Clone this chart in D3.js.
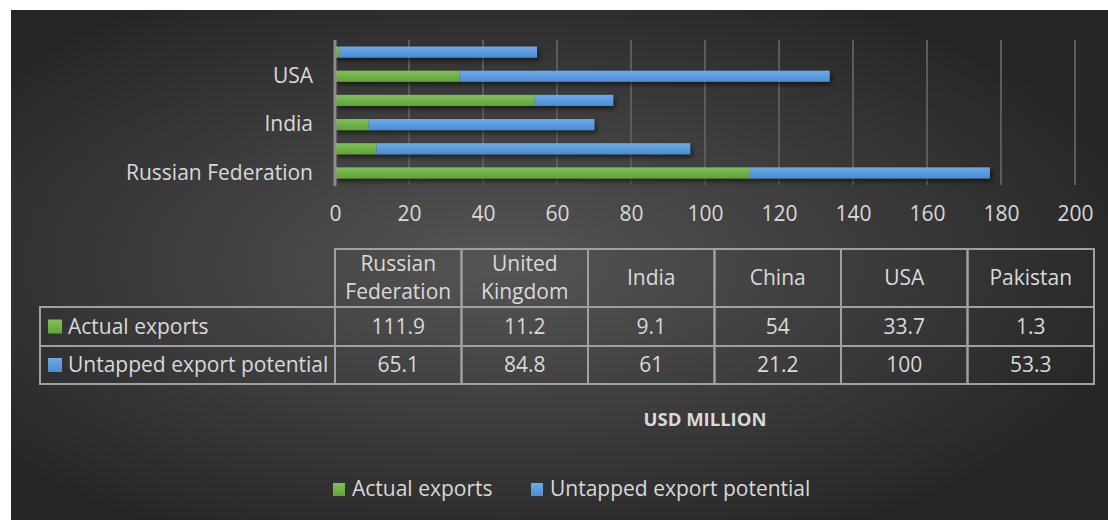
<!DOCTYPE html>
<html><head><meta charset="utf-8">
<script src="https://cdn.jsdelivr.net/npm/d3@7"></script>
<style>
html,body{margin:0;padding:0;background:#fff;}
svg{display:block;font-family:"Open Sans","Noto Sans",sans-serif;}
</style></head>
<body><svg id="c" width="1108" height="520"></svg>
<script>
const categories = ["Russian Federation","United Kingdom","India","China","USA","Pakistan"];
const tableHeaders = [["Russian","Federation"],["United","Kingdom"],["India"],["China"],["USA"],["Pakistan"]];
const actualExports = [111.9, 11.2, 9.1, 54, 33.7, 1.3];
const untappedPotential = [65.1, 84.8, 61, 21.2, 100, 53.3];
const seriesNames = ["Actual exports","Untapped export potential"];
const xTicks = [0,20,40,60,80,100,120,140,160,180,200];

const FS = "21px";
const svg = d3.select("#c");
const defs = svg.append("defs");
const bg = defs.append("radialGradient").attr("id","bg").attr("cx","45%").attr("cy","50%").attr("r","60%");
bg.append("stop").attr("offset","0%").attr("stop-color","#555555");
bg.append("stop").attr("offset","100%").attr("stop-color","#262626");
const gG = defs.append("linearGradient").attr("id","gG").attr("x1",0).attr("y1",0).attr("x2",0).attr("y2",1);
gG.append("stop").attr("offset","0%").attr("stop-color","#82bf5c");
gG.append("stop").attr("offset","100%").attr("stop-color","#5fa534");
const gB = defs.append("linearGradient").attr("id","gB").attr("x1",0).attr("y1",0).attr("x2",0).attr("y2",1);
gB.append("stop").attr("offset","0%").attr("stop-color","#6eaae6");
gB.append("stop").attr("offset","100%").attr("stop-color","#4a8cd4");
const sh = defs.append("filter").attr("id","sh").attr("x","-10%").attr("y","-50%").attr("width","120%").attr("height","250%");
sh.append("feDropShadow").attr("dx",2).attr("dy",3).attr("stdDeviation",2.5).attr("flood-color","#000").attr("flood-opacity",0.55);

svg.append("rect").attr("x",11).attr("y",10).attr("width",1097).attr("height",510).attr("fill","url(#bg)");

const x = d3.scaleLinear().domain([0,200]).range([335,1075]);
const y = d3.scaleBand().domain(categories).range([185,40]).paddingInner(0.54).paddingOuter(0.27);

// grid
svg.append("g").selectAll("line").data(xTicks.filter(d=>d>0)).join("line")
  .attr("x1",d=>x(d)).attr("x2",d=>x(d)).attr("y1",40).attr("y2",185)
  .attr("stroke","#5c5c5c").attr("stroke-width",2);

// bars
const stackData = categories.map((c,i)=>({cat:c, a:actualExports[i], u:untappedPotential[i]}));
const stack = d3.stack().keys(["a","u"])(stackData);
const fills = ["url(#gG)","url(#gB)"];
const barsG = svg.append("g").attr("filter","url(#sh)");
stack.forEach((s,si)=>{
  barsG.append("g").selectAll("rect").data(s).join("rect")
    .attr("x",d=>x(d[0])).attr("width",d=>x(d[1])-x(d[0]))
    .attr("y",d=>y(d.data.cat)).attr("height",y.bandwidth())
    .attr("fill",fills[si]);
});

// y axis line
svg.append("line").attr("x1",335).attr("x2",335).attr("y1",40).attr("y2",186)
  .attr("stroke","#8c8c8c").attr("stroke-width",3);

// y labels
const yAxis = d3.axisLeft(y).tickValues(categories.filter((d,i)=>i%2===0)).tickSize(0).tickPadding(22);
const ya = svg.append("g").attr("transform","translate(335,0)").call(yAxis);
ya.select(".domain").remove();
ya.selectAll("text").attr("fill","#d9d9d9").style("font-size",FS).style("font-family","'Open Sans',sans-serif");

// x tick labels
const xAxis = d3.axisBottom(x).tickValues(xTicks).tickSize(0).tickPadding(0);
const xa = svg.append("g").attr("transform","translate(0,206)").call(xAxis);
xa.select(".domain").remove();
xa.selectAll("text").attr("fill","#d9d9d9").style("font-size",FS).style("font-family","'Open Sans',sans-serif").attr("dy","0.7em");

// data table
const colX = d3.scaleBand().domain(categories).range([335,1094]);
const tTop = 249, hBot = 307, r1Bot = 346, r2Bot = 384, tLeft = 40;
const tg = svg.append("g");
const lc = "#a0a0a0";
categories.forEach((c,i)=>{
  tg.append("rect").attr("x",colX(c)).attr("y",tTop).attr("width",colX.bandwidth()).attr("height",hBot-tTop)
    .attr("fill","none").attr("stroke",lc).attr("stroke-width",2);
  const lines = tableHeaders[i];
  const cx = colX(c)+colX.bandwidth()/2;
  lines.forEach((l,j)=>{
    const cy = lines.length===1 ? (tTop+hBot)/2 : (tTop+hBot)/2 + (j-0.5)*28;
    tg.append("text").attr("x",cx).attr("y",cy).attr("dy","0.35em").attr("text-anchor","middle")
      .attr("fill","#d9d9d9").style("font-size",FS).text(l);
  });
});
const rows = [{name:seriesNames[0], vals:actualExports, fill:"url(#gG)", y0:hBot, y1:r1Bot},
              {name:seriesNames[1], vals:untappedPotential, fill:"url(#gB)", y0:r1Bot, y1:r2Bot}];
rows.forEach(r=>{
  tg.append("rect").attr("x",tLeft).attr("y",r.y0).attr("width",335-tLeft).attr("height",r.y1-r.y0)
    .attr("fill","none").attr("stroke",lc).attr("stroke-width",2);
  const cy=(r.y0+r.y1)/2;
  tg.append("rect").attr("x",48).attr("y",cy-7).attr("width",14).attr("height",14).attr("fill",r.fill);
  tg.append("text").attr("x",68).attr("y",cy).attr("dy","0.35em").attr("fill","#d9d9d9")
    .style("font-size",FS).text(r.name);
  categories.forEach((c,i)=>{
    tg.append("rect").attr("x",colX(c)).attr("y",r.y0).attr("width",colX.bandwidth()).attr("height",r.y1-r.y0)
      .attr("fill","none").attr("stroke",lc).attr("stroke-width",2);
    tg.append("text").attr("x",colX(c)+colX.bandwidth()/2).attr("y",cy).attr("dy","0.35em")
      .attr("text-anchor","middle").attr("fill","#d9d9d9").style("font-size",FS).text(r.vals[i]);
  });
});

// axis title
svg.append("text").attr("x",705).attr("y",420).attr("dy","0.35em").attr("text-anchor","middle")
  .attr("fill","#d9d9d9").style("font-size","18.5px").style("font-weight","bold").text("USD MILLION");

// legend
const leg = [{x:333, name:seriesNames[0], fill:"url(#gG)"},{x:531, name:seriesNames[1], fill:"url(#gB)"}];
leg.forEach(l=>{
  svg.append("rect").attr("x",l.x).attr("y",483).attr("width",12).attr("height",13).attr("fill",l.fill);
  svg.append("text").attr("x",l.x+19).attr("y",489).attr("dy","0.35em").attr("fill","#d9d9d9")
    .style("font-size",FS).text(l.name);
});
</script></body></html>
